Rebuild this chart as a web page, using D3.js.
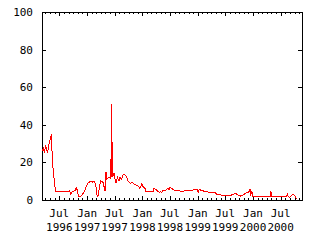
<!DOCTYPE html>
<html>
<head>
<meta charset="utf-8">
<script src="https://cdn.jsdelivr.net/npm/d3@7"></script>
<style>
  body { margin: 0; background: #fff; }
  svg { display: block; }
  text { font-family: "DejaVu Sans Mono", monospace; font-size: 11px; fill: #000; }
</style>
</head>
<body>
<svg id="chart" width="320" height="240"></svg>
<script>
// values
var dates = [
  '1996-03-12','1996-03-19','1996-03-25','1996-04-01','1996-04-08','1996-04-14',
  '1996-04-21','1996-04-27','1996-05-04','1996-05-11','1996-05-16','1996-05-24',
  '1996-06-03','1996-06-06','1996-09-08','1996-09-16','1996-09-26','1996-10-13',
  '1996-10-21','1996-10-29','1996-11-05','1996-11-18','1996-12-01','1996-12-11',
  '1996-12-22','1997-01-06','1997-01-24','1997-02-08','1997-02-20','1997-02-25',
  '1997-03-04','1997-03-07','1997-03-13','1997-03-20','1997-03-30','1997-04-15',
  '1997-04-29','1997-05-05','1997-05-12','1997-05-22','1997-06-04','1997-06-07',
  '1997-06-09','1997-06-12','1997-06-16','1997-06-18','1997-06-27','1997-07-04',
  '1997-07-10','1997-07-20','1997-07-30','1997-08-06','1997-08-16','1997-08-28',
  '1997-09-14','1997-09-30','1997-10-11','1997-10-24','1997-11-06','1997-11-19',
  '1997-12-02','1997-12-16','1997-12-27','1998-01-06','1998-01-18','1998-01-24',
  '1998-03-13','1998-03-18','1998-04-05','1998-04-22','1998-04-27','1998-05-08',
  '1998-05-14','1998-05-30','1998-06-20','1998-06-25','1998-07-02','1998-07-13',
  '1998-07-23','1998-08-04','1998-08-25','1998-09-17','1998-10-09','1998-11-11',
  '1998-12-02','1998-12-29','1999-01-04','1999-01-11','1999-01-20','1999-02-02',
  '1999-02-18','1999-04-25','1999-05-06','1999-05-28','1999-08-02','1999-08-13',
  '1999-09-08','1999-09-25','1999-10-11','1999-10-28','1999-11-20','1999-12-07',
  '1999-12-12','1999-12-16','1999-12-23','1999-12-29','2000-04-26','2000-04-28',
  '2000-04-30','2000-08-10','2000-08-14','2000-08-18','2000-08-31','2000-09-06',
  '2000-09-22','2000-10-03','2000-10-14'
];
var values = [
  26, 28, 25, 29, 27, 25,
  28, 31, 33, 35, 21, 14,
  7, 4.5, 4.8, 3, 4.5, 5,
  6.7, 5, 2, 2, 3, 4,
  6.4, 8.9, 10, 9.5, 10, 7.6,
  6, 2.5, 1.8, 5, 10.2, 9.5,
  5, 15, 11, 12, 11.5, 12,
  51, 12, 31, 12, 14.5, 11,
  9, 12, 10, 12, 11, 13.7,
  13, 9.8, 8.9, 9.3, 8.6, 8,
  7.4, 6.2, 8.6, 7, 6.2, 4.5,
  4.5, 6.3, 5.2, 4, 4.4, 4,
  5, 5, 6.2, 5.3, 6.7, 6,
  5.7, 5, 5.3, 4.4, 5, 5,
  5.3, 5.8, 4, 5.5, 5.3, 5,
  4.4, 3.9, 3, 2.7, 2.1, 2.7,
  3.5, 2.7, 2.1, 2.7, 3.9, 4.4,
  5.7, 2.1, 5, 2.1, 2.1, 5,
  2.1, 2.1, 3, 2.1, 1.4, 2.1,
  3, 2.1, 0.5
];
var yTicks = [0, 20, 40, 60, 80, 100];
var monthNames = ['Jan','Feb','Mar','Apr','May','Jun','Jul','Aug','Sep','Oct','Nov','Dec'];

var parse = d3.timeParse('%Y-%m-%d');
var data = dates.map(function(d, i){ return { date: parse(d), value: values[i] }; });

var plotLeft = 42, plotRight = 302, plotTop = 12, plotBottom = 200;
var svg = d3.select('#chart');

var x = d3.scaleTime()
  .domain([parse('1996-03-09'), parse('2000-11-19')])
  .range([plotLeft, plotRight]);
var y = d3.scaleLinear().domain([0, 100]).range([plotBottom, plotTop]);

var majorTicks = x.ticks(d3.timeMonth.every(6));
var minorTicks = x.ticks(d3.timeMonth.every(1));

// minor ticks top and bottom
svg.append('g')
  .attr('transform', 'translate(0,' + plotBottom + ')')
  .call(d3.axisBottom(x).tickValues(minorTicks).tickSize(-2).tickFormat(''));
svg.append('g')
  .attr('transform', 'translate(0,' + plotTop + ')')
  .call(d3.axisTop(x).tickValues(minorTicks).tickSize(-2).tickFormat(''));
// major ticks top and bottom
svg.append('g')
  .attr('transform', 'translate(0,' + plotBottom + ')')
  .call(d3.axisBottom(x).tickValues(majorTicks).tickSize(-4).tickFormat(''));
svg.append('g')
  .attr('transform', 'translate(0,' + plotTop + ')')
  .call(d3.axisTop(x).tickValues(majorTicks).tickSize(-4).tickFormat(''));
// y ticks left and right
svg.append('g')
  .attr('class', 'yleft')
  .attr('transform', 'translate(' + plotLeft + ',0)')
  .call(d3.axisLeft(y).tickValues(yTicks).tickSize(-4).tickPadding(9));
svg.append('g')
  .attr('transform', 'translate(' + plotRight + ',0)')
  .call(d3.axisRight(y).tickValues(yTicks).tickSize(-4).tickFormat(''));

svg.selectAll('.domain').remove();
svg.selectAll('.tick line').attr('stroke', '#000').attr('shape-rendering', 'crispEdges');
svg.selectAll('.yleft text')
  .style('font-family', '"DejaVu Sans Mono", monospace')
  .style('font-size', '11px');

// frame
svg.append('rect')
  .attr('x', plotLeft).attr('y', plotTop)
  .attr('width', plotRight - plotLeft).attr('height', plotBottom - plotTop)
  .attr('fill', 'none').attr('stroke', '#000')
  .attr('shape-rendering', 'crispEdges');

// two-line date labels
var labels = svg.append('g').selectAll('text')
  .data(majorTicks)
  .enter()
  .append('text')
  .attr('text-anchor', 'middle');
labels.append('tspan')
  .attr('x', function(d){ return x(d); })
  .attr('y', 217)
  .text(function(d){ return monthNames[d.getMonth()]; });
labels.append('tspan')
  .attr('x', function(d){ return x(d); })
  .attr('y', 231)
  .text(function(d){ return d.getFullYear(); });

// data line
var line = d3.line()
  .x(function(d){ return x(d.date); })
  .y(function(d){ return y(d.value); });
svg.append('path')
  .datum(data)
  .attr('d', line)
  .attr('fill', 'none')
  .attr('stroke', '#ff0000')
  .attr('stroke-width', 1)
  .attr('shape-rendering', 'crispEdges');
</script>
</body>
</html>
